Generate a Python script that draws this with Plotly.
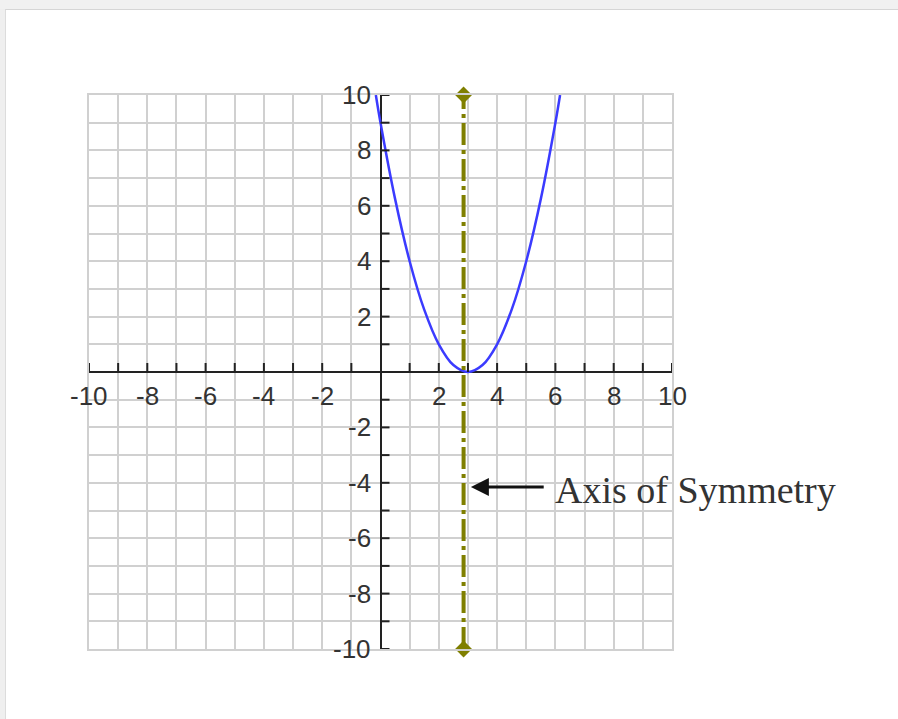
import plotly.graph_objects as go

# Parabola y = (x - 3)^2 sampled points
curve_x = [-0.16, 0, 0.5, 1, 1.5, 2, 2.5, 3, 3.5, 4, 4.5, 5, 5.5, 6, 6.16]
curve_y = [10, 9, 6.25, 4, 2.25, 1, 0.25, 0, 0.25, 1, 2.25, 4, 6.25, 9, 10]

# Axis of symmetry (vertical dash-dot line with diamond ends)
sym_x = [2.85, 2.85]
sym_y = [-10, 10]

# Arrow pointing at the axis of symmetry
arrow_tip = (3.1, -4.15)
arrow_tail = (5.65, -4.15)
label_pos = (5.92, -4.25)
label_text = "Axis of Symmetry"

# Axis range, tick positions and labels
axis_min, axis_max = -10, 10
tick_vals = [v for v in range(axis_min, axis_max + 1) if v != 0]
label_vals = [v for v in range(axis_min, axis_max + 1, 2) if v != 0]

W, H = 898, 719
M_L, M_R, M_T, M_B = 89, 226, 95, 70
plot_w = W - M_L - M_R
plot_h = H - M_T - M_B


def px_x(p):
    return (p - M_L) / plot_w


def px_y(p):
    return (H - M_B - p) / plot_h


fig = go.Figure()

fig.add_trace(go.Scatter(
    x=curve_x, y=curve_y, mode="lines",
    line=dict(color="#3b3bff", width=2.5, shape="spline"),
    hoverinfo="skip",
))

fig.add_trace(go.Scatter(
    x=sym_x, y=sym_y, mode="lines+markers", cliponaxis=False,
    line=dict(color="#7f7f00", width=4, dash="22px,5px,4px,5px"),
    marker=dict(symbol="diamond", size=13, color="#7f7f00"),
    hoverinfo="skip",
))

shapes = []
# tick marks on the x-axis (pointing up) and y-axis (pointing right)
for v in tick_vals:
    shapes.append(dict(type="line", xref="x", yref="y", x0=v, x1=v,
                       ysizemode="pixel", yanchor=0, y0=0, y1=9,
                       line=dict(color="#222222", width=2)))
    shapes.append(dict(type="line", xref="x", yref="y", y0=v, y1=v,
                       xsizemode="pixel", xanchor=0, x0=0, x1=9,
                       line=dict(color="#222222", width=2)))

# page frame: grey strip across the top and down the left side
shapes.append(dict(type="rect", xref="paper", yref="paper",
                   x0=px_x(0), x1=px_x(W), y0=px_y(9), y1=px_y(0),
                   fillcolor="#f1f1f1", line=dict(width=0), layer="below"))
shapes.append(dict(type="rect", xref="paper", yref="paper",
                   x0=px_x(0), x1=px_x(5), y0=px_y(H), y1=px_y(9),
                   fillcolor="#efefef", line=dict(width=0), layer="below"))
shapes.append(dict(type="line", xref="paper", yref="paper",
                   x0=px_x(5), x1=px_x(W), y0=px_y(9.5), y1=px_y(9.5),
                   line=dict(color="#d6d6d6", width=1)))
shapes.append(dict(type="line", xref="paper", yref="paper",
                   x0=px_x(5.5), x1=px_x(5.5), y0=px_y(H), y1=px_y(9.5),
                   line=dict(color="#dcdcdc", width=1)))

tick_font = dict(family="Liberation Sans, Arial, sans-serif", size=26, color="#333333")
annotations = []
for v in label_vals:
    annotations.append(dict(x=v, y=0, xref="x", yref="y", text=str(v),
                            showarrow=False, xanchor="center", yanchor="middle",
                            yshift=-24, font=tick_font))
    annotations.append(dict(x=0, y=v, xref="x", yref="y", text=str(v),
                            showarrow=False, xanchor="right", yanchor="middle",
                            xshift=-8, font=tick_font))

annotations.append(dict(x=arrow_tip[0], y=arrow_tip[1], xref="x", yref="y",
                        ax=arrow_tail[0], ay=arrow_tail[1], axref="x", ayref="y",
                        text="", showarrow=True, arrowhead=2, arrowsize=1.2,
                        arrowwidth=3, arrowcolor="#111111"))
annotations.append(dict(x=label_pos[0], y=label_pos[1], xref="x", yref="y",
                        text=label_text, showarrow=False, xanchor="left",
                        yanchor="middle",
                        font=dict(family="Liberation Serif, Times New Roman, serif",
                                  size=38, color="#333333")))

axis_common = dict(
    range=[axis_min, axis_max], dtick=1, tick0=0,
    showgrid=True, gridcolor="#d0d0d0", gridwidth=2,
    zeroline=True, zerolinecolor="#222222", zerolinewidth=2,
    showline=True, linecolor="#d0d0d0", linewidth=2, mirror=True,
    showticklabels=False, ticks="", fixedrange=True,
)

fig.update_layout(
    width=W, height=H,
    margin=dict(l=M_L, r=M_R, t=M_T, b=M_B, pad=0),
    paper_bgcolor="white", plot_bgcolor="white",
    showlegend=False,
    xaxis=axis_common,
    yaxis=axis_common,
    shapes=shapes,
    annotations=annotations,
)

fig.write_html("out.html")
